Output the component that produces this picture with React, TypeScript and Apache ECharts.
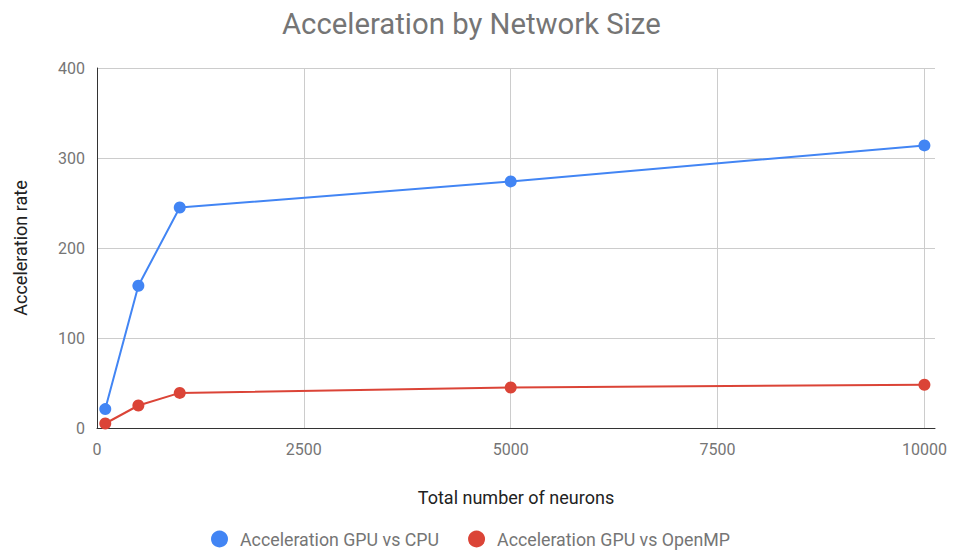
import React, { useEffect, useRef } from "react";
import * as echarts from "echarts";

const neurons = [100, 500, 1000, 5000, 10000];
const gpuVsCpu = [21, 158, 245, 274, 314];
const gpuVsOpenMP = [5, 25, 39, 45, 48];
const seriesNames = ["Acceleration GPU vs CPU", "Acceleration GPU vs OpenMP"];

export default function App() {
  const ref = useRef<HTMLDivElement>(null);
  useEffect(() => {
    const chart = echarts.init(ref.current!, null, { renderer: "svg" });
    const font = "Roboto, 'Noto Sans', Arial, sans-serif";
    chart.setOption({
      animation: false,
      textStyle: { fontFamily: font },
      title: {
        text: "Acceleration by Network Size",
        left: 277,
        top: 4,
        textStyle: { fontSize: 29.3, fontWeight: "normal", color: "#757575", fontFamily: font },
      },
      legend: {
        bottom: 1,
        left: 206,
        icon: "circle",
        itemWidth: 17,
        itemHeight: 17,
        itemGap: 29,
        textStyle: { fontSize: 17.8, color: "#757575", fontFamily: font, padding: [0, 0, 0, 7] },
        data: seriesNames,
      },
      grid: { left: 97, right: 19, top: 68, bottom: 126, containLabel: false },
      xAxis: {
        type: "value",
        min: 0,
        max: 10128,
        interval: 2500,
        name: "Total number of neurons",
        nameLocation: "middle",
        nameGap: 60,
        nameTextStyle: { fontSize: 18, color: "#222", fontFamily: font },
        axisLine: { show: true, onZero: false, lineStyle: { color: "#333", width: 1 } },
        axisTick: { show: false },
        axisLabel: {
          fontSize: 16,
          color: "#757575",
          margin: 13,
          showMaxLabel: false,
          formatter: (v: number) => (v % 2500 === 0 ? String(v) : ""),
        },
        splitLine: { show: true, showMinLine: false, showMaxLine: false, lineStyle: { color: "#cccccc" } },
      },
      yAxis: {
        type: "value",
        min: 0,
        max: 400,
        interval: 100,
        name: "Acceleration rate",
        nameLocation: "middle",
        nameGap: 68,
        nameTextStyle: { fontSize: 18, color: "#222", fontFamily: font },
        axisLine: { show: true, lineStyle: { color: "#333", width: 1 } },
        axisTick: { show: false },
        axisLabel: { fontSize: 16, color: "#757575", margin: 12 },
        splitLine: { show: true, lineStyle: { color: "#cccccc" } },
      },
      series: [
        {
          name: seriesNames[0],
          type: "line",
          data: neurons.map((n, i) => [n, gpuVsCpu[i]]),
          symbol: "circle",
          symbolSize: 12,
          lineStyle: { width: 2, color: "#4285f4" },
          itemStyle: { color: "#4285f4" },
        },
        {
          name: seriesNames[1],
          type: "line",
          data: neurons.map((n, i) => [n, gpuVsOpenMP[i]]),
          symbol: "circle",
          symbolSize: 12,
          lineStyle: { width: 2, color: "#db4437" },
          itemStyle: { color: "#db4437" },
        },
      ],
    });
    return () => chart.dispose();
  }, []);
  return <div ref={ref} style={{ width: 954, height: 554, position: "absolute", left: 0, top: 0 }} />;
}
